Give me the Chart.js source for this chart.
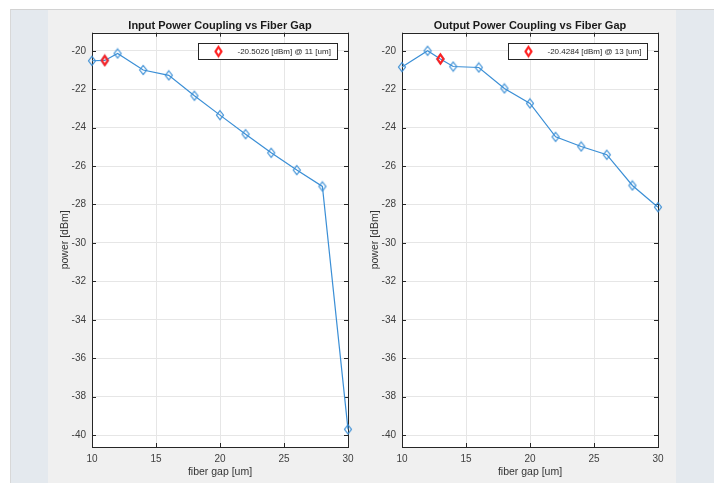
<!DOCTYPE html>
<html>
<head>
<meta charset="utf-8">
<script src="https://cdn.jsdelivr.net/npm/chart.js@4"></script>
<style>
    body { margin: 0; background: #ffffff; width: 724px; height: 483px; overflow: hidden; position: relative; }
    #frame { position: absolute; left: 10px; top: 9px; width: 703px; height: 474px; background: #e4e9ee; border-top: 1px solid #d2d2d2; border-left: 1px solid #d8d8d8; }
    #figure { position: absolute; left: 48px; top: 10px; width: 628px; height: 473px; background: #f0f0f0; }
    canvas { position: absolute; top: 10px; }
    #inChart { left: 48px; }
    #outChart { left: 358px; }
</style>
</head>
<body>
<div id="frame"></div>
<div id="figure"></div>
<canvas id="inChart" width="314" height="473"></canvas>
<canvas id="outChart" width="314" height="473"></canvas>
<script>
// data
const gapIn = [10, 11, 12, 14, 16, 18, 20, 22, 24, 26, 28, 30];
const powerIn = [-20.52, -20.5026, -20.14, -21.00, -21.28, -22.34, -23.35, -24.34, -25.31, -26.21, -27.06, -39.70];
const markIn = [11, -20.5026];

const gapOut = [10, 12, 13, 14, 16, 18, 20, 22, 24, 26, 28, 30];
const powerOut = [-20.85, -20.00, -20.4284, -20.82, -20.87, -21.96, -22.74, -24.48, -24.98, -25.41, -27.01, -28.14];
const markOut = [13, -20.4284];

const xTicks = [10, 15, 20, 25, 30];
const yTicks = [-20, -22, -24, -26, -28, -30, -32, -34, -36, -38, -40];

const FONT = '"Liberation Sans", Arial, Helvetica, sans-serif';
const lineColor = '#3b8fd6';
const markColor = '#ff1f1f';

function diamond(w, h, color, lw) {
    const c = document.createElement('canvas');
    c.width = Math.ceil(w + lw * 2);
    c.height = Math.ceil(h + lw * 2);
    const g = c.getContext('2d');
    const cx = c.width / 2, cy = c.height / 2;
    g.strokeStyle = color;
    g.lineWidth = lw;
    g.beginPath();
    g.moveTo(cx, cy - h / 2);
    g.lineTo(cx + w / 2, cy);
    g.lineTo(cx, cy + h / 2);
    g.lineTo(cx - w / 2, cy);
    g.closePath();
    g.stroke();
    return c;
}

const blueMark = diamond(7, 9, lineColor, 1.2);
const redMark = diamond(6, 9, markColor, 2.2);

// white plot area, box, inward ticks and the little legend
const axesBox = {
    id: 'axesBox',
    beforeDraw(chart) {
        const ca = chart.chartArea;
        const ctx = chart.ctx;
        ctx.save();
        ctx.fillStyle = '#ffffff';
        ctx.fillRect(ca.left, ca.top, ca.right - ca.left, ca.bottom - ca.top);
        ctx.restore();
    },
    beforeDatasetsDraw(chart) {
        const ca = chart.chartArea;
        const ctx = chart.ctx;
        const xs = chart.scales.x, ys = chart.scales.y;
        ctx.save();
        ctx.strokeStyle = '#262626';
        ctx.lineWidth = 1;
        ctx.strokeRect(Math.round(ca.left) + 0.5, Math.round(ca.top) + 0.5,
            Math.round(ca.right - ca.left), Math.round(ca.bottom - ca.top));
        ctx.beginPath();
        const tl = 4;
        xTicks.forEach(v => {
            const px = Math.round(xs.getPixelForValue(v)) + 0.5;
            ctx.moveTo(px, ca.bottom); ctx.lineTo(px, ca.bottom - tl);
            ctx.moveTo(px, ca.top); ctx.lineTo(px, ca.top + tl);
        });
        yTicks.forEach(v => {
            const py = Math.round(ys.getPixelForValue(v)) + 0.5;
            ctx.moveTo(ca.left, py); ctx.lineTo(ca.left + tl, py);
            ctx.moveTo(ca.right, py); ctx.lineTo(ca.right - tl, py);
        });
        ctx.stroke();
        ctx.restore();
    },
    afterDraw(chart) {
        const ca = chart.chartArea;
        const ctx = chart.ctx;
        ctx.save();
        // legend
        const lw = 139, lh = 16;
        const lx = Math.round(ca.right - 11 - lw) + 0.5;
        const ly = Math.round(ca.top + 10.5) + 0.5;
        ctx.fillStyle = '#ffffff';
        ctx.fillRect(lx, ly, lw, lh);
        ctx.strokeStyle = '#262626';
        ctx.lineWidth = 1;
        ctx.strokeRect(lx, ly, lw, lh);
        ctx.drawImage(redMark, lx + 20 - redMark.width / 2, ly + lh / 2 - redMark.height / 2);
        ctx.fillStyle = '#262626';
        ctx.font = '8px ' + FONT;
        ctx.textBaseline = 'middle';
        ctx.textAlign = 'left';
        ctx.fillText(chart.data.datasets[1].label, lx + 39, ly + lh / 2 + 0.5);
        ctx.restore();
    }
};

function makeChart(id, title, gaps, powers, mark) {
    const ctx = document.getElementById(id).getContext('2d');
    return new Chart(ctx, {
        type: 'line',
        data: {
            datasets: [{
                label: 'power',
                data: gaps.map((g, i) => ({ x: g, y: powers[i] })),
                borderColor: lineColor,
                borderWidth: 1.2,
                pointStyle: blueMark,
                pointRadius: 5,
                tension: 0,
                fill: false,
                clip: false,
                order: 2
            }, {
                label: mark[1].toFixed(4) + ' [dBm] @ ' + mark[0] + ' [um]',
                data: [{ x: mark[0], y: mark[1] }],
                showLine: false,
                pointStyle: redMark,
                pointRadius: 5,
                clip: false,
                order: 1
            }]
        },
        options: {
            responsive: false,
            animation: false,
            layout: { padding: { left: 0, right: 14, top: 0, bottom: 0 } },
            plugins: {
                legend: { display: false },
                tooltip: { enabled: false },
                title: {
                    display: true,
                    text: title,
                    fullSize: false,
                    color: '#1a1a1a',
                    font: { family: FONT, size: 11, weight: 'bold' },
                    padding: { top: 9, bottom: 0.5 }
                }
            },
            scales: {
                x: {
                    type: 'linear',
                    min: 10,
                    max: 30,
                    afterBuildTicks: s => { s.ticks = xTicks.map(v => ({ value: v })); },
                    afterFit: s => { s.height = 36; },
                    grid: { color: '#e6e6e6', drawTicks: false },
                    border: { display: false },
                    ticks: { color: '#404040', padding: 6, font: { family: FONT, size: 10 } },
                    title: {
                        display: true,
                        text: 'fiber gap [um]',
                        color: '#333333',
                        font: { family: FONT, size: 10.5 },
                        padding: { top: 0, bottom: 4.7 }
                    }
                },
                y: {
                    min: -40.62,
                    max: -19.06,
                    afterBuildTicks: s => { s.ticks = yTicks.map(v => ({ value: v })); },
                    afterFit: s => { s.width = 44; },
                    grid: { color: '#e6e6e6', drawTicks: false },
                    border: { display: false },
                    ticks: { color: '#404040', padding: 6, font: { family: FONT, size: 10 } },
                    title: {
                        display: true,
                        text: 'power [dBm]',
                        color: '#333333',
                        font: { family: FONT, size: 10.5 },
                        padding: { top: 10.7, bottom: 0 }
                    }
                }
            }
        },
        plugins: [axesBox]
    });
}

makeChart('inChart', 'Input Power Coupling vs Fiber Gap', gapIn, powerIn, markIn);
makeChart('outChart', 'Output Power Coupling vs Fiber Gap', gapOut, powerOut, markOut);
</script>
</body>
</html>
